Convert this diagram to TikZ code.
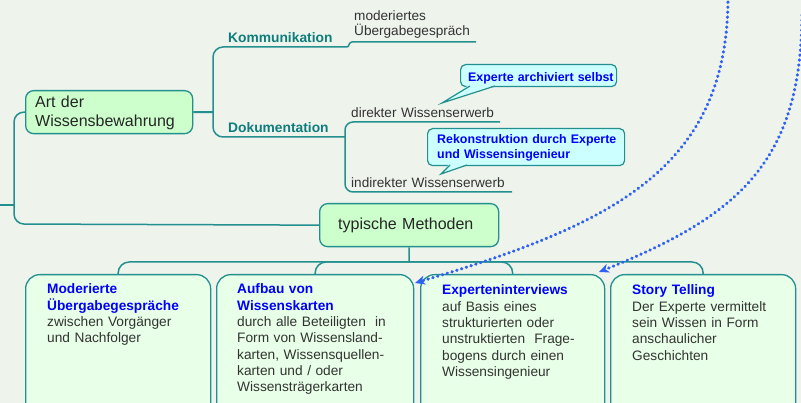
\documentclass[tikz,border=0pt]{standalone}
\usepackage{fontspec}
\setmainfont{Liberation Sans}
\usetikzlibrary{arrows.meta}
\definecolor{bg}{HTML}{EEF3EC}
\definecolor{teal1}{HTML}{23908F}
\definecolor{tealtxt}{HTML}{0E7D7D}
\definecolor{greenfill}{HTML}{CCFFCC}
\definecolor{mintfill}{HTML}{E8FFE8}
\definecolor{cyanfill}{HTML}{CCFFFF}
\definecolor{titleblue}{HTML}{0000FF}
\definecolor{bodytxt}{HTML}{333333}
\definecolor{dotblue}{HTML}{2F62F2}
\begin{document}
\begin{tikzpicture}[x=1pt,y=-1pt,
  conn/.style={draw=teal1, line width=1.5pt},
  mainbox/.style={draw=teal1, line width=1.3pt, fill=greenfill, rounded corners=8pt, anchor=north west, inner sep=0pt},
  methbox/.style={draw=teal1, line width=1.3pt, fill=mintfill, rounded corners=14pt, anchor=north west, inner sep=0pt, minimum height=160pt},
  calloutbox/.style={draw=teal1, line width=1.2pt, fill=cyanfill, rounded corners=5pt, anchor=north west, inner sep=0pt},
  bigtxt/.style={anchor=base west, inner sep=0pt, text width=170pt, align=left, font=\fontsize{16}{19}\selectfont, text=black!85},
  branchtxt/.style={anchor=base west, inner sep=0pt, font=\fontsize{13.8}{16}\bfseries\selectfont, text=tealtxt},
  leaftxt/.style={anchor=base west, inner sep=0pt, text width=170pt, align=left, font=\fontsize{13.6}{15}\selectfont, text=bodytxt},
  boxtxt/.style={anchor=base west, inner sep=0pt, text width=180pt, align=left, font=\fontsize{13.7}{16.3}\selectfont, text=bodytxt},
  calltxt/.style={anchor=base west, inner sep=0pt, text width=200pt, align=left, font=\fontsize{12.4}{14.3}\bfseries\selectfont, text=titleblue},
  dotarrow/.style={draw=dotblue, line width=3.2pt, line cap=round, dash pattern=on 0.4pt off 4.6pt, -{Stealth[length=10pt,width=9pt,inset=3pt]}}
]
\fill[bg] (0,0) rectangle (801,403);
\useasboundingbox (0,0) rectangle (801,403);
\clip (0,0) rectangle (801,403);

% ---- nodes (boxes) ----
\node[mainbox, minimum width=167pt, minimum height=43pt] (art) at (25,90) {};
\node[mainbox, minimum width=179pt, minimum height=43pt] (typ) at (319,203) {};
\node[methbox, minimum width=185pt] (m1) at (25,274) {};
\node[methbox, minimum width=197pt] (m2) at (216,274) {};
\node[methbox, minimum width=184pt] (m3) at (420,274) {};
\node[methbox, minimum width=185pt] (m4) at (610,274) {};

% ---- connectors ----
\coordinate (split) at (213,112);
\coordinate (komend) at (476,42);
\coordinate (dirend) at (500,122);
\coordinate (indend) at (512,192);
\coordinate (dokend) at (345,137);
\coordinate (stub) at (0,205);
\coordinate (bus) at (409,262);

\draw[conn, line width=2pt] (art.east) -- (split);
\draw[conn, rounded corners=10pt] (split) -- (213,47) -- (347,47);
\draw[conn] (347,47) .. controls (349.5,47) and (348.5,42) .. (352,42) -- (komend);
\draw[conn, rounded corners=10pt] (split) -- (213,137) -- (dokend);
\draw[conn, rounded corners=8pt] (dirend) -- (345,122) -- (345,192) -- (indend);
\draw[conn] (stub) -- (14,205);
\draw[conn, rounded corners=10pt] (art.west) -- (14,112) -- (14,224) -- (typ.west);
\draw[conn] (typ.south) -- (bus);
\draw[conn, rounded corners=11pt] (bus) -| (m1.north);
\draw[conn, rounded corners=11pt] (bus) -| (m2.north);
\draw[conn, rounded corners=11pt] (bus) -| (m3.north);
\draw[conn, rounded corners=11pt] (bus) -| (m4.north);

% ---- texts ----
\node[bigtxt] (arttxt) at (35,108) {Art der\\Wissensbewahrung};
\node[bigtxt, text width=140pt] (typtxt) at (338,230) {typische Methoden};
\node[branchtxt] (kom) at (228,43) {Kommunikation};
\node[branchtxt] (dok) at (228,133) {Dokumentation};
\node[leaftxt] (leaf1) at (354,21) {moderiertes\\Übergabegespräch};
\node[leaftxt] (leaf2) at (351,118) {direkter Wissenserwerb};
\node[leaftxt] (leaf3) at (351,188) {indirekter Wissenserwerb};

\node[boxtxt] (m1t) at (47,294) {\textcolor{titleblue}{\bfseries Moderierte}\\\textcolor{titleblue}{\bfseries Übergabegespräche}\\zwischen Vorgänger\\und Nachfolger};
\node[boxtxt] (m2t) at (237,294) {\textcolor{titleblue}{\bfseries Aufbau von}\\\textcolor{titleblue}{\bfseries Wissenskarten}\\durch alle Beteiligten~ in\\Form von Wissensland-\\karten, Wissensquellen-\\karten und / oder\\Wissensträgerkarten};
\node[boxtxt] (m3t) at (442,295) {\textcolor{titleblue}{\bfseries Experteninterviews}\\auf Basis eines\\strukturierten oder\\unstruktierten~ Frage-\\bogens durch einen\\Wissensingenieur};
\node[boxtxt] (m4t) at (632,295) {\textcolor{titleblue}{\bfseries Story Telling}\\Der Experte vermittelt\\sein Wissen in Form\\anschaulicher\\Geschichten};

% ---- callouts ----
\node[calloutbox, minimum width=156pt, minimum height=22pt] (c1) at (460,64) {};
\coordinate (c1tip) at (442,103);
\fill[cyanfill] (469,85) -- (c1tip) -- (496,85) -- cycle;
\draw[teal1, line width=1.2pt, line join=miter] (470,86) -- (c1tip) -- (495,86);
\node[calltxt] (c1t) at (468,81.5) {Experte archiviert selbst};

\node[calloutbox, minimum width=197pt, minimum height=37pt] (c2) at (427,128) {};
\coordinate (c2tip) at (441,174);
\fill[cyanfill] (449,164) -- (c2tip) -- (468,164) -- cycle;
\draw[teal1, line width=1.2pt, line join=miter] (450,165) -- (c2tip) -- (467,165);
\node[calltxt] (c2t) at (437,144) {Rekonstruktion durch Experte\\und Wissensingenieur};

% ---- dotted arrows ----
\coordinate (d1start) at (728,-3);
\coordinate (d1end) at (415,283);
\coordinate (d2start) at (802,15);
\coordinate (d2end) at (599,272);
\draw[dotarrow] (d1start) .. controls (728,170) and (610,225) .. (d1end);
\draw[dotarrow] (d2start) .. controls (801,165) and (735,217) .. (d2end);
\end{tikzpicture}
\end{document}
